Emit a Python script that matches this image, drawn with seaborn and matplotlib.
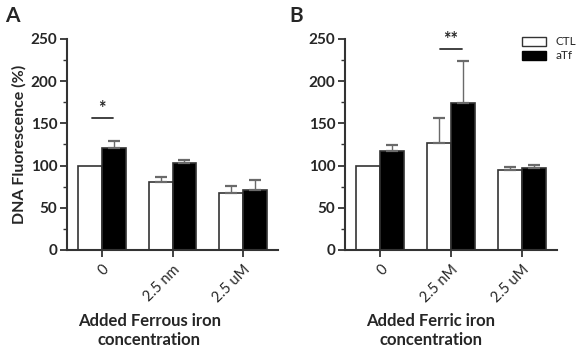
import numpy as np
import pandas as pd
import matplotlib
matplotlib.use("Agg")
import matplotlib.pyplot as plt
import seaborn as sns
from matplotlib.patches import Patch
from matplotlib.ticker import MultipleLocator

# Datos
conc_ferrous = ["0", "2.5 nm", "2.5 uM"]
conc_ferric = ["0", "2.5 nM", "2.5 uM"]
grupos = ["CTL", "aTf"]

ferrous_ctl = [100, 80, 67]
ferrous_ctl_err = [0, 7, 9]
ferrous_atf = [120.5, 103, 70.5]
ferrous_atf_err = [8, 3, 12]

ferric_ctl = [100, 127, 94.5]
ferric_ctl_err = [0, 29.5, 4]
ferric_atf = [117.5, 174.5, 97]
ferric_atf_err = [6.5, 49.5, 3.5]

xlabels = ["Added Ferrous iron\nconcentration", "Added Ferric iron\nconcentration"]
panel_letters = ["A", "B"]
# (grupo, texto, altura) de significancia
sig_ferrous = (0, "*", 156)
sig_ferric = (1, "**", 238)

sns.set_style("ticks")
plt.rcParams["font.family"] = ["Lato", "DejaVu Sans"]

fig = plt.figure(figsize=(5.77, 3.51), dpi=100)
ax_a = fig.add_axes([0.116, 0.288, 0.366, 0.601])
ax_b = fig.add_axes([0.598, 0.288, 0.367, 0.601])

paneles = [
    (ax_a, conc_ferrous, ferrous_ctl, ferrous_ctl_err, ferrous_atf, ferrous_atf_err, sig_ferrous),
    (ax_b, conc_ferric, ferric_ctl, ferric_ctl_err, ferric_atf, ferric_atf_err, sig_ferric),
]

edge = "#333333"
for i, (ax, conc, ctl, ctl_err, atf, atf_err, sig) in enumerate(paneles):
    df = pd.DataFrame({
        "conc": conc * 2,
        "grupo": [grupos[0]] * 3 + [grupos[1]] * 3,
        "valor": ctl + atf,
        "err": ctl_err + atf_err,
    })
    sns.barplot(data=df, x="conc", y="valor", hue="grupo", order=conc,
                hue_order=grupos, palette=["white", "black"], width=0.68,
                edgecolor=edge, linewidth=1.2, errorbar=None, legend=False, ax=ax)

    # Barras de error solo hacia arriba
    for patch, e in zip(ax.patches, df["err"]):
        if e <= 0:
            continue
        xc = patch.get_x() + patch.get_width() / 2
        h = patch.get_height()
        ax.errorbar(xc, h, yerr=[[0], [e]], fmt="none", ecolor="#6a6a6a",
                    elinewidth=1.0, capsize=4.5, capthick=1.6, zorder=1)

    # Significancia
    g, txt, yv = sig
    ax.plot([g - 0.15, g + 0.15], [yv, yv], color="#333333", lw=1.3)
    ax.text(g, yv + 1, txt, ha="center", va="bottom", fontsize=13,
            fontweight="bold")

    ax.set_ylim(0, 250)
    ax.set_xlim(-0.5, 2.5)
    ax.yaxis.set_major_locator(MultipleLocator(50))
    ax.yaxis.set_minor_locator(MultipleLocator(25))
    ax.tick_params(axis="y", which="major", length=5, width=1.3, color=edge,
                   labelsize=11, pad=2)
    ax.tick_params(axis="y", which="minor", length=3, width=1.0, color=edge)
    ax.tick_params(axis="x", length=5, width=1.3, color=edge, labelsize=10.5,
                   pad=4)
    for lab in ax.get_yticklabels():
        lab.set_fontweight("bold")
    ax.set_xticks(range(3))
    ax.set_xticklabels(conc, rotation=45, ha="right", rotation_mode="anchor")
    for s in ["left", "bottom"]:
        ax.spines[s].set_color(edge)
        ax.spines[s].set_linewidth(1.5)
    sns.despine(ax=ax)

    ax.set_xlabel(xlabels[i], fontsize=12, fontweight="bold", linespacing=1.25)
    ax.xaxis.set_label_coords(0.39 if i == 0 else 0.405, -0.30)
    ax.xaxis.label.set_va("top")
    ax.set_ylabel("DNA Fluorescence (%)" if i == 0 else "", fontsize=11.5,
                  fontweight="bold", labelpad=3)

fig.text(0.008, 0.955, panel_letters[0], fontsize=15, fontweight="bold", va="center")
fig.text(0.502, 0.955, panel_letters[1], fontsize=15, fontweight="bold", va="center")

handles = [Patch(facecolor="white", edgecolor=edge, linewidth=1.0),
           Patch(facecolor="black", edgecolor="black")]
ax_b.legend(handles, grupos, loc="upper left", bbox_to_anchor=(0.815, 1.035),
            frameon=False, fontsize=8.5, handlelength=2.0, handleheight=0.8,
            labelspacing=0.25, handletextpad=0.8, borderaxespad=0)

fig.savefig("out.png", dpi=100)
